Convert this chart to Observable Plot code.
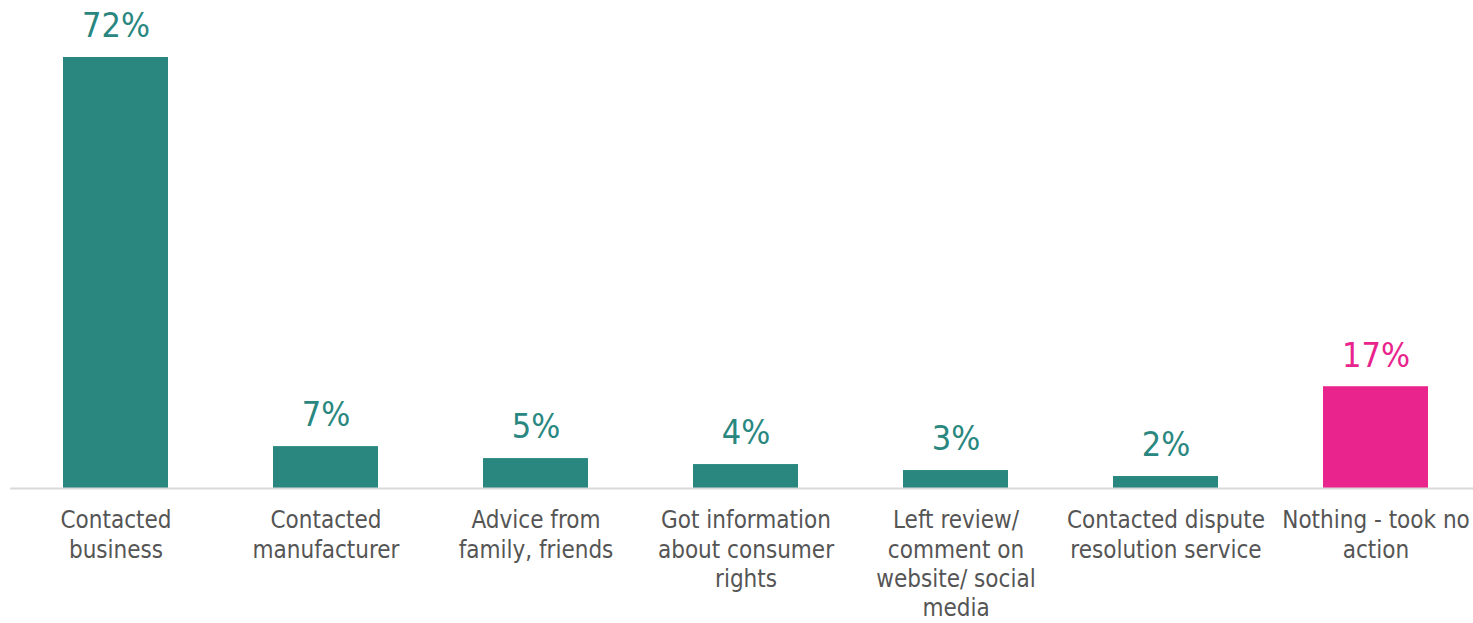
<!DOCTYPE html>
<html>
<head>
<meta charset="utf-8">
<script src="https://cdn.jsdelivr.net/npm/d3@7"></script>
<script src="https://cdn.jsdelivr.net/npm/@observablehq/plot@0.6"></script>
<style>
  html, body { margin: 0; padding: 0; background: #fff; }
  #chart svg { display: block; }
</style>
</head>
<body>
<div id="chart"></div>
<script>
const categories = [
  "Contacted\nbusiness",
  "Contacted\nmanufacturer",
  "Advice from\nfamily, friends",
  "Got information\nabout consumer\nrights",
  "Left review/\ncomment on\nwebsite/ social\nmedia",
  "Contacted dispute\nresolution service",
  "Nothing - took no\naction"
];
const values = [72, 7, 5, 4, 3, 2, 17];
const highlight = [false, false, false, false, false, false, true];

const data = categories.map((c, i) => ({category: c, value: values[i], hl: highlight[i]}));
const FONT = "'Liberation Sans Narrow', 'DejaVu Sans Condensed', 'Roboto', sans-serif";
const teal = "#29877f";
const pink = "#e9248d";

const chart = Plot.plot({
  width: 1473,
  height: 623,
  marginLeft: 10,
  marginRight: 0,
  marginTop: 0,
  marginBottom: 135,
  style: {fontFamily: FONT, background: "#fff"},
  x: {domain: categories, range: [10, 1480], paddingInner: 0.5, paddingOuter: 0.25, axis: null},
  y: {domain: [0, 72], range: [488, 57], axis: null},
  marks: [
    Plot.barY(data, {x: "category", y: "value", fill: d => d.hl ? pink : teal}),
    Plot.ruleY([0], {stroke: "#d9d9d9", strokeWidth: 2}),
    Plot.text(data, {x: "category", y: "value", text: d => d.value + "%", dy: -31, fill: d => d.hl ? pink : teal, fontSize: 34, fontFamily: FONT}),
    Plot.axisX({domain: categories, tickSize: 0, tickPadding: 0, fontSize: 24, lineHeight: 1.22, fill: "#555", textAnchor: "middle", dy: 19, fontFamily: FONT, label: null})
  ]
});
document.getElementById("chart").appendChild(chart);
</script>
</body>
</html>
